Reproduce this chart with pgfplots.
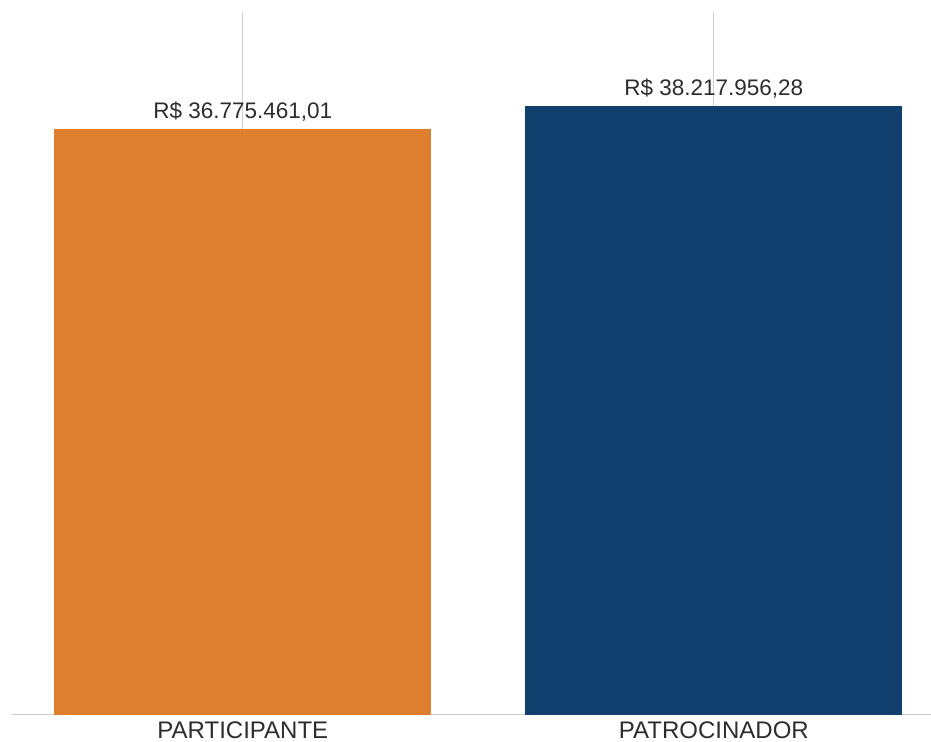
\documentclass[border=0pt]{standalone}
\usepackage{pgfplots}
\usepackage{pgfplotstable}
\pgfplotsset{compat=1.18}
\usepackage{fontspec}
\setmainfont{Liberation Sans}

\definecolor{barorange}{RGB}{221,127,46}
\definecolor{barblue}{RGB}{17,63,110}
\definecolor{gridgray}{RGB}{205,205,205}
\definecolor{txt}{RGB}{45,45,45}

% valores em milhoes de reais
\pgfplotstableread{
x y label
0 36.775461 36.775.461,01
}\participante
\pgfplotstableread{
x y label
1 38.217956 38.217.956,28
}\patrocinador

\begin{document}
\begin{tikzpicture}
\useasboundingbox (-12bp,-27.5bp) rectangle (919bp,714.5bp);
\begin{axis}[
    at={(0,0)}, anchor=south west,
    width=919bp, height=702.5bp, scale only axis,
    xmin=-0.49, xmax=1.461,
    ymin=0, ymax=44.12,
    axis x line=bottom, axis y line=none,
    axis line style={draw=gridgray, line width=1.8bp, -},
    xtick={0,1}, xticklabels={PARTICIPANTE,PATROCINADOR},
    major tick length=0pt,
    xmajorgrids, grid style={draw=gridgray, line width=1.2bp},
    ytick=\empty,
    xticklabel style={font=\fontsize{24bp}{28bp}\selectfont, text=txt, anchor=base, yshift=-23.5bp, inner sep=0pt},
    ybar, bar width=0.8, bar shift=0pt,
    point meta=explicit symbolic,
    nodes near coords={R\$ \pgfplotspointmeta},
    nodes near coords style={font=\fontsize{22.5bp}{26bp}\selectfont, text=txt, anchor=base, yshift=10.7bp, inner sep=0pt},
    clip=false,
]
\addplot[fill=barorange, draw=none] table[x=x, y=y, meta=label] {\participante};
\addplot[fill=barblue, draw=none] table[x=x, y=y, meta=label] {\patrocinador};
\end{axis}
\end{tikzpicture}
\end{document}
